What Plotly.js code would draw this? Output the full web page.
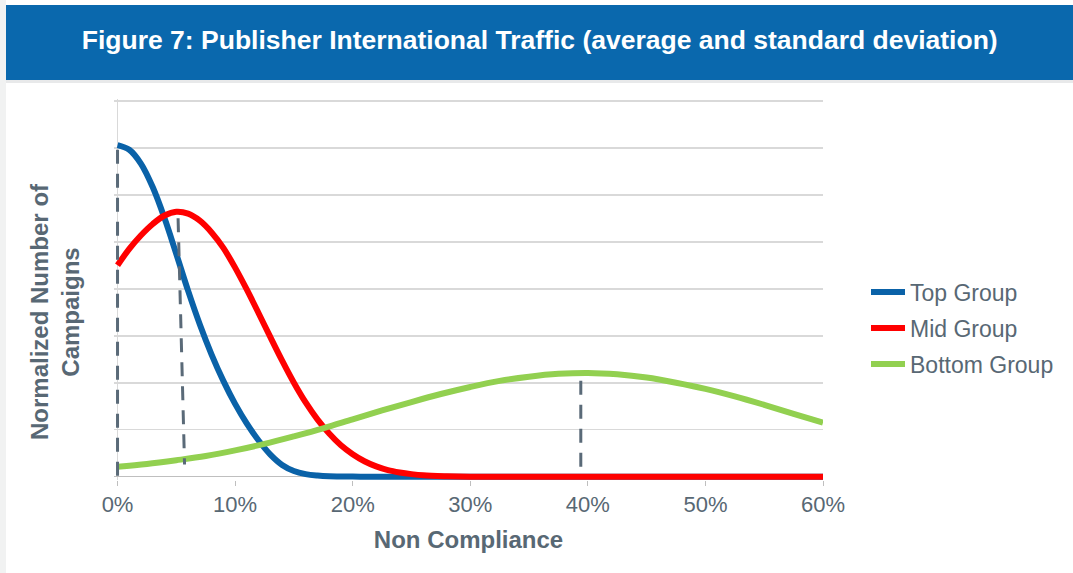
<!DOCTYPE html>
<html>
<head>
<meta charset="utf-8">
<script src="https://cdn.plot.ly/plotly-3.0.1.min.js"></script>
<style>
html,body{margin:0;padding:0;background:#fff;}
#chart{width:1073px;height:573px;}
</style>
</head>
<body>
<div id="chart"></div>
<script>
// ---- Data ----
const seriesNames = ['Top Group', 'Mid Group', 'Bottom Group'];

const topX = [0,1,2,3,4,5,6,7,8,9,10,11,12,13,14,15,16,17,18,20,22,25,30,40,50,60];
const topY = [7.06,6.96,6.66,6.16,5.5,4.74,3.96,3.24,2.6,2.04,1.55,1.13,0.77,0.47,0.25,0.12,0.055,0.025,0.01,0.002,0,0,0,0,0,0];

const midX = [0,1,2,3,4,5,6,7,8,9,10,11,12,13,14,15,16,17,18,19,20,21,22,23,24,25,26,28,30,40,50,60];
const midY = [4.5,4.85,5.14,5.38,5.56,5.64,5.6,5.45,5.2,4.87,4.45,3.98,3.48,2.97,2.47,2.0,1.58,1.22,0.92,0.67,0.48,0.33,0.22,0.14,0.09,0.055,0.03,0.01,0,0,0,0];

const bottomX = [0,2.5,5,7.5,10,12.5,15,17.5,20,22.5,25,27.5,30,32.5,35,37.5,40,42.5,45,47.5,50,52.5,55,57.5,60];
const bottomY = [0.21,0.27,0.35,0.44,0.56,0.7,0.86,1.03,1.22,1.41,1.59,1.76,1.91,2.04,2.13,2.19,2.21,2.18,2.11,2.0,1.87,1.71,1.53,1.34,1.15];

// dashed markers at each group's average
const meanTopX = [0, 0];
const meanTopY = [6.96, 0];
const meanMidX = [5.15, 5.7];
const meanMidY = [5.5, 0.26];
const meanBottomX = [39.4, 39.4];
const meanBottomY = [2.04, 0];

const xTickVals = [0,10,20,30,40,50,60];
const xTickText = ['0%','10%','20%','30%','40%','50%','60%'];

// ---- Styling ----
const FONT = 'Liberation Sans, Arial, sans-serif';
const TXT = '#586874';
const colors = ['#0A62A8', '#FF0000', '#92D050'];
const dashColor = '#5A6A78';

const curves = [[topX, topY], [midX, midY], [bottomX, bottomY]];
const legendIds = ['legend', 'legend2', 'legend3'];
const traces = curves.map((c, i) => ({
  type: 'scatter', mode: 'lines', x: c[0], y: c[1], name: seriesNames[i],
  line: {color: colors[i], width: 6, shape: 'spline', smoothing: 1},
  legend: legendIds[i], hoverinfo: 'skip'
}));
[[meanTopX, meanTopY], [meanMidX, meanMidY], [meanBottomX, meanBottomY]].forEach(m => {
  traces.push({type: 'scatter', mode: 'lines', x: m[0], y: m[1], showlegend: false,
    line: {color: dashColor, width: 3, dash: '14px,10px'}, hoverinfo: 'skip'});
});

const L = 114, R = 250, T = 99, B = 93;
const pw = 1073 - L - R, ph = 573 - T - B;
const px = v => (v - L) / pw;
const py = v => (573 - B - v) / ph;

function legendAt(yPix) {
  return {x: px(866), xanchor: 'left', y: py(yPix), yanchor: 'middle',
    bgcolor: 'rgba(0,0,0,0)', borderwidth: 0, itemwidth: 34,
    font: {family: FONT, size: 23, color: TXT}};
}

const layout = {
  width: 1073, height: 573,
  margin: {l: L, r: R, t: T, b: B},
  paper_bgcolor: '#ffffff', plot_bgcolor: '#ffffff',
  title: {text: 'Figure 7: Publisher International Traffic (average and standard deviation)',
    xref: 'container', yref: 'container', x: 0.503, y: 1 - 40 / 573,
    xanchor: 'center', yanchor: 'middle',
    font: {family: FONT, size: 26.5, color: '#ffffff', weight: 'bold'}},
  xaxis: {range: [-0.3, 60], tickvals: xTickVals, ticktext: xTickText,
    showgrid: false, showline: false, zeroline: true, zerolinecolor: '#D9D9D9', zerolinewidth: 1.5,
    ticks: 'outside', ticklen: 5, tickcolor: '#BFBFBF', tickwidth: 1,
    tickfont: {family: FONT, size: 22, color: TXT},
    title: {text: 'Non Compliance', standoff: 14, font: {family: FONT, size: 24, color: TXT, weight: 'bold'}},
    fixedrange: true},
  yaxis: {range: [-0.07, 8.04], tick0: 0, dtick: 1, showticklabels: false,
    showgrid: true, gridcolor: '#D9D9D9', gridwidth: 1.5,
    zeroline: true, zerolinecolor: '#BFBFBF', zerolinewidth: 1.5,
    showline: false, ticks: '', fixedrange: true},
  legend: legendAt(292), legend2: legendAt(328), legend3: legendAt(364),
  annotations: [{text: 'Normalized Number of<br>Campaigns', textangle: -90,
    xref: 'paper', yref: 'paper', x: px(55), y: py(312), xanchor: 'center', yanchor: 'middle',
    showarrow: false, font: {family: FONT, size: 24, color: TXT, weight: 'bold'}}],
  shapes: [
    {type: 'rect', xref: 'paper', yref: 'paper', x0: px(0), x1: px(6), y0: py(573), y1: py(0),
      fillcolor: '#F1F2F2', line: {width: 0}, layer: 'below'},
    {type: 'rect', xref: 'paper', yref: 'paper', x0: px(6), x1: px(1073), y0: py(83), y1: py(80),
      fillcolor: '#E8E9EA', line: {width: 0}, layer: 'below'},
    {type: 'rect', xref: 'paper', yref: 'paper', x0: px(6), x1: px(1073), y0: py(80), y1: py(5),
      fillcolor: '#0A68AD', line: {width: 0}, layer: 'below'}
  ]
};

Plotly.newPlot('chart', traces, layout, {displayModeBar: false, staticPlot: true});
</script>
</body>
</html>
